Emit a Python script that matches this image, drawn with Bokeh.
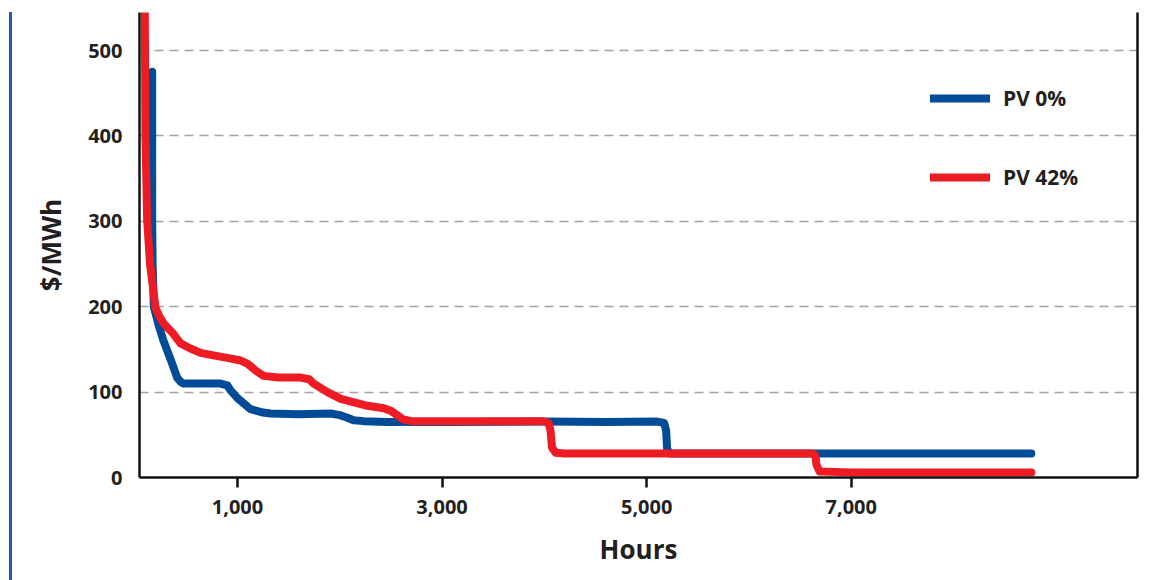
from bokeh.plotting import figure
from bokeh.models import Range1d, FixedTicker, LinearAxis, Legend, LegendItem, Div
from bokeh.layouts import row
from bokeh.embed import file_html
from bokeh.resources import INLINE

# ---- data ----
pv0_hours = [166, 166, 170, 182, 230, 277, 350, 410, 445, 472, 640, 834, 900, 932, 1000, 1128, 1250, 1324,
             1600, 1910, 2000, 2075, 2135, 2235, 2466, 3000, 4000, 4600, 5100, 5170, 5190, 5200, 5230,
             6000, 8760]
pv0_price = [475, 300, 250, 200, 178, 160, 137, 117, 112, 110, 110, 110, 108, 102, 93, 80, 76, 75,
             74, 75, 73, 70, 67, 66, 65, 65, 65.5, 65, 65.5, 64, 55, 33, 28,
             28, 28]

pv42_hours = [94, 100, 117, 145, 198, 230, 280, 375, 443, 540, 640, 765, 900, 1030, 1100, 1180, 1255,
              1400, 1617, 1700, 1745, 1880, 2010, 2140, 2270, 2430, 2500, 2560, 2620, 2700, 3000, 3500,
              3980, 4040, 4060, 4075, 4110, 4200, 5000, 6000, 6620, 6648, 6660, 6690, 7000, 8760]
pv42_price = [543, 400, 301, 250, 199, 190, 180, 168, 157, 151, 146, 143, 140, 137, 133, 125, 119,
              117, 117, 115, 110, 100, 92, 88, 84, 81, 78, 73, 68, 66, 66, 66,
              66, 64, 55, 35, 29, 28, 28, 28, 28, 26, 15, 7, 6, 6]

series_names = ["PV 0%", "PV 42%"]
series_colors = ["#024b96", "#ed1c24"]

x_ticks = [1000, 3000, 5000, 7000]
x_tick_labels = ["1,000", "3,000", "5,000", "7,000"]
y_ticks = [0, 100, 200, 300, 400, 500]

FONT = "Open Sans"
TEXT = "#231f20"

p = figure(width=1134, height=578, output_backend="svg", toolbar_location=None,
           x_range=Range1d(42, 9798), y_range=Range1d(0, 544.5),
           min_border_left=127, min_border_right=9, min_border_top=12, min_border_bottom=101)
p.outline_line_color = None
p.background_fill_color = "white"
p.border_fill_color = "white"

r0 = p.line(pv0_hours, pv0_price, line_color=series_colors[0], line_width=8,
            line_cap="round", line_join="round")
r1 = p.line(pv42_hours, pv42_price, line_color=series_colors[1], line_width=8,
            line_cap="round", line_join="round")

# axes
xa = p.xaxis[0]
xa.ticker = FixedTicker(ticks=x_ticks)
xa.major_label_overrides = dict(zip(x_ticks, x_tick_labels))
xa.axis_line_width = 2.5
xa.axis_line_color = "#111111"
xa.major_tick_line_width = 2.5
xa.major_tick_line_color = "#111111"
xa.major_tick_out = 10
xa.major_tick_in = 0
xa.minor_tick_line_color = None
xa.major_label_text_font = FONT
xa.major_label_text_font_style = "bold"
xa.major_label_text_font_size = "20px"
xa.major_label_text_color = TEXT
xa.major_label_standoff = 12
xa.axis_label = "Hours"
xa.axis_label_text_font = FONT
xa.axis_label_text_font_style = "bold"
xa.axis_label_text_font_size = "26px"
xa.axis_label_text_color = TEXT
xa.axis_label_standoff = 14

ya = p.yaxis[0]
ya.ticker = FixedTicker(ticks=y_ticks)
ya.axis_line_width = 2.5
ya.axis_line_color = "#111111"
ya.major_tick_out = 0
ya.major_tick_in = 0
ya.minor_tick_line_color = None
ya.major_label_text_font = FONT
ya.major_label_text_font_style = "bold"
ya.major_label_text_font_size = "20px"
ya.major_label_text_color = TEXT
ya.major_label_standoff = 17
ya.axis_label = "$/MWh"
ya.axis_label_text_font = FONT
ya.axis_label_text_font_style = "bold"
ya.axis_label_text_font_size = "26px"
ya.axis_label_text_color = TEXT
ya.axis_label_standoff = 16

ra = LinearAxis(ticker=FixedTicker(ticks=[]), axis_line_width=2.5, axis_line_color="#111111",
                major_tick_out=0, major_tick_in=0, minor_tick_line_color=None,
                major_label_text_font_size="0px", major_label_standoff=0)
p.add_layout(ra, "right")

# grid
p.xgrid.visible = False
p.ygrid.ticker = FixedTicker(ticks=y_ticks[1:])
p.ygrid.grid_line_color = "#a3a3a3"
p.ygrid.grid_line_width = 1.5
p.ygrid.grid_line_dash = "9 6"

# legend
legend = Legend(items=[LegendItem(label=series_names[0], renderers=[r0]),
                       LegendItem(label=series_names[1], renderers=[r1])],
                location=(791, 286), orientation="vertical",
                glyph_width=60, glyph_height=20, label_height=20, spacing=51,
                label_standoff=13, padding=0, margin=0,
                background_fill_alpha=0, border_line_color=None,
                label_text_font=FONT, label_text_font_style="bold",
                label_text_font_size="21px", label_text_color=TEXT)
p.add_layout(legend, "center")

bar = Div(text="", width=3, height=568, margin=(12, 0, 0, 9),
          styles={"background-color": "#1f5ca8"})

layout = row(bar, p)
open("out.html", "w").write(file_html(layout, INLINE))
